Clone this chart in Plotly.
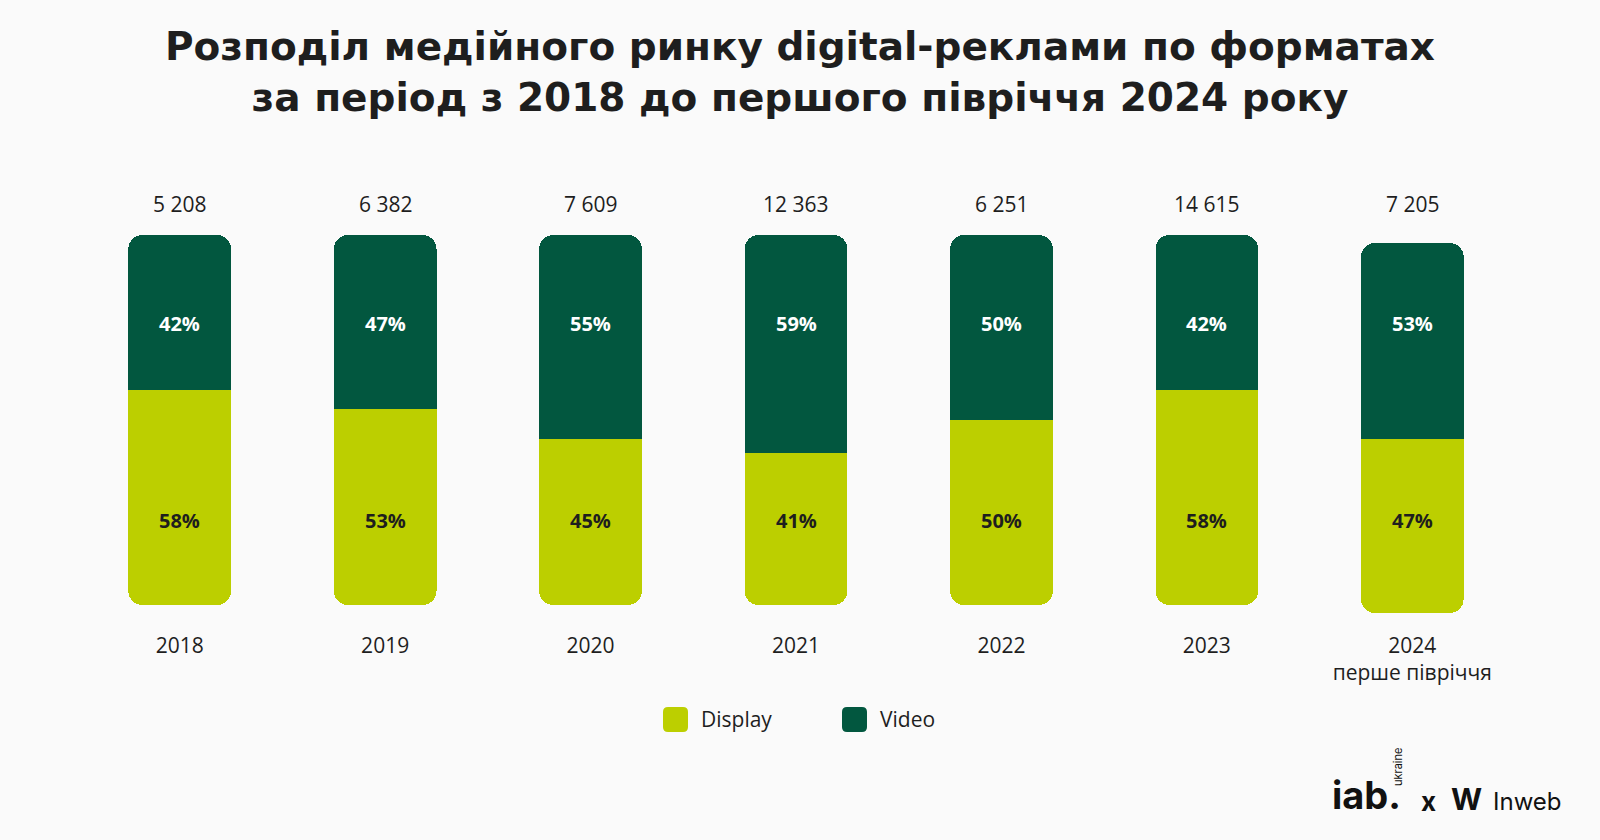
import plotly.graph_objects as go

years = ["2018", "2019", "2020", "2021", "2022", "2023", "2024"]
year_labels = ["2018", "2019", "2020", "2021", "2022", "2023", "2024<br>перше півріччя"]
totals = [5208, 6382, 7609, 12363, 6251, 14615, 7205]
display_pct = [58, 53, 45, 41, 50, 58, 47]
video_pct = [42, 47, 55, 59, 50, 42, 53]

C_DISPLAY = "#bccf00"
C_VIDEO = "#02573f"
C_TEXT = "#1e1e1e"
BG = "#fafafa"
CLEAR = "rgba(0,0,0,0)"
FONT = "Open Sans"

W, H = 1600, 840
ML, MR, MT, MB = 77, 85, 235, 227
PW, PH = W - ML - MR, H - MT - MB
SHIFT = 8  # the last (half-year) column sits slightly lower in the original
R = 14


def px_x(px):
    return (px - ML) / PW


def px_y(py):
    return (H - MB - py) / PH


fig = go.Figure()

n_main = len(years) - 1
groups = [(slice(0, n_main), "y", "y2"), (slice(n_main, len(years)), "y3", "y4")]
for sl, ax_up, ax_down in groups:
    xs, d, v = years[sl], display_pct[sl], video_pct[sl]
    # normal axis: invisible display spacer, then video (rounded top of stack)
    fig.add_trace(go.Bar(x=xs, y=d, yaxis=ax_up, marker=dict(color=CLEAR, line=dict(width=0)),
                         width=0.5, showlegend=False, hoverinfo="skip"))
    fig.add_trace(go.Bar(x=xs, y=v, yaxis=ax_up, name="Video",
                         marker=dict(color=C_VIDEO, line=dict(width=0)),
                         width=0.5, showlegend=False, hoverinfo="skip"))
    # reversed axis: invisible video spacer, then display (rounded bottom of stack)
    fig.add_trace(go.Bar(x=xs, y=v, yaxis=ax_down, marker=dict(color=CLEAR, line=dict(width=0)),
                         width=0.5, showlegend=False, hoverinfo="skip"))
    fig.add_trace(go.Bar(x=xs, y=d, yaxis=ax_down, name="Display",
                         marker=dict(color=C_DISPLAY, line=dict(width=0)),
                         width=0.5, showlegend=False, hoverinfo="skip"))

annotations = []
for i, yr in enumerate(years):
    annotations.append(dict(
        x=i, xref="x", y=px_y(204), yref="paper", yanchor="middle",
        text=f"{totals[i]:,}".replace(",", " "), showarrow=False,
        font=dict(family=FONT, size=21, color=C_TEXT),
    ))
    annotations.append(dict(
        x=i, xref="x", y=px_y(323), yref="paper", yanchor="middle",
        text=f"<b>{video_pct[i]}%</b>", showarrow=False,
        font=dict(family=FONT, size=20, color="#ffffff"),
    ))
    annotations.append(dict(
        x=i, xref="x", y=px_y(520), yref="paper", yanchor="middle",
        text=f"<b>{display_pct[i]}%</b>", showarrow=False,
        font=dict(family=FONT, size=20, color=C_TEXT),
    ))

shapes = []


def rounded_rect(x0, y0, x1, y1, r, color):
    def P(x, y):
        return f"{px_x(x):.5f},{px_y(y):.5f}"
    path = (f"M {P(x0 + r, y0)} L {P(x1 - r, y0)} Q {P(x1, y0)} {P(x1, y0 + r)} "
            f"L {P(x1, y1 - r)} Q {P(x1, y1)} {P(x1 - r, y1)} "
            f"L {P(x0 + r, y1)} Q {P(x0, y1)} {P(x0, y1 - r)} "
            f"L {P(x0, y0 + r)} Q {P(x0, y0)} {P(x0 + r, y0)} Z")
    return dict(type="path", xref="paper", yref="paper", path=path,
                fillcolor=color, line=dict(width=0), layer="above")


legend_items = [("Display", C_DISPLAY, 663), ("Video", C_VIDEO, 842)]
for name, col, x0 in legend_items:
    shapes.append(rounded_rect(x0, 707, x0 + 25, 732, 5, col))
    annotations.append(dict(
        x=px_x(x0 + 36), xref="paper", y=px_y(719), yref="paper",
        xanchor="left", yanchor="middle", text=name, showarrow=False,
        font=dict(family=FONT, size=21, color=C_TEXT),
    ))

annotations += [
    dict(x=px_x(1330), y=px_y(795), xref="paper", yref="paper", xanchor="left", yanchor="middle",
         text="<b>iab.</b>", showarrow=False, font=dict(family="Inter", size=38, color="#111111")),
    dict(x=px_x(1398), y=px_y(767), xref="paper", yref="paper", xanchor="center", yanchor="middle",
         text="ukraine", textangle=-90, showarrow=False, font=dict(family="Inter", size=11, color="#111111")),
    dict(x=px_x(1428), y=px_y(801), xref="paper", yref="paper", xanchor="center", yanchor="middle",
         text="<b>x</b>", showarrow=False, font=dict(family="Inter", size=26, color="#111111")),
    dict(x=px_x(1449), y=px_y(799), xref="paper", yref="paper", xanchor="left", yanchor="middle",
         text="<b>W</b>", showarrow=False, font=dict(family="Inter", size=30, color="#111111")),
    dict(x=px_x(1491), y=px_y(801), xref="paper", yref="paper", xanchor="left", yanchor="middle",
         text="Inweb", showarrow=False, font=dict(family="Inter", size=24, color="#111111")),
]

dom_main = [SHIFT / PH, 1]
dom_last = [0, 1 - SHIFT / PH]

fig.update_layout(
    width=W, height=H,
    margin=dict(l=ML, r=MR, t=MT, b=MB),
    paper_bgcolor=BG, plot_bgcolor=CLEAR,
    barmode="stack", barcornerradius=R,
    title=dict(
        text="<b>Розподіл медійного ринку digital-реклами по форматах<br>за період з 2018 до першого півріччя 2024 року</b>",
        x=0.5, xref="container", xanchor="center",
        y=1 - 60 / H, yref="container", yanchor="middle",
        font=dict(family="DejaVu Sans", size=39, color=C_TEXT),
    ),
    xaxis=dict(
        type="category", categoryorder="array", categoryarray=years,
        range=[-0.5, len(years) - 0.5], anchor="free", position=0,
        tickmode="array", tickvals=years, ticktext=year_labels,
        showgrid=False, zeroline=False, showline=False, ticks="",
        tickfont=dict(family=FONT, size=21, color=C_TEXT),
        ticklabelstandoff=18, fixedrange=True,
    ),
    yaxis=dict(range=[0, 100], domain=dom_main, visible=False, fixedrange=True),
    yaxis2=dict(range=[100, 0], visible=False, overlaying="y", fixedrange=True),
    yaxis3=dict(range=[0, 100], domain=dom_last, visible=False, anchor="x", fixedrange=True),
    yaxis4=dict(range=[100, 0], visible=False, overlaying="y3", fixedrange=True),
    annotations=annotations,
    shapes=shapes,
    showlegend=False,
)

fig.write_html(
    "out.html",
    config={"displayModeBar": False},
    post_script="document.body.style.margin='0px';document.body.style.backgroundColor='#fafafa';",
)
